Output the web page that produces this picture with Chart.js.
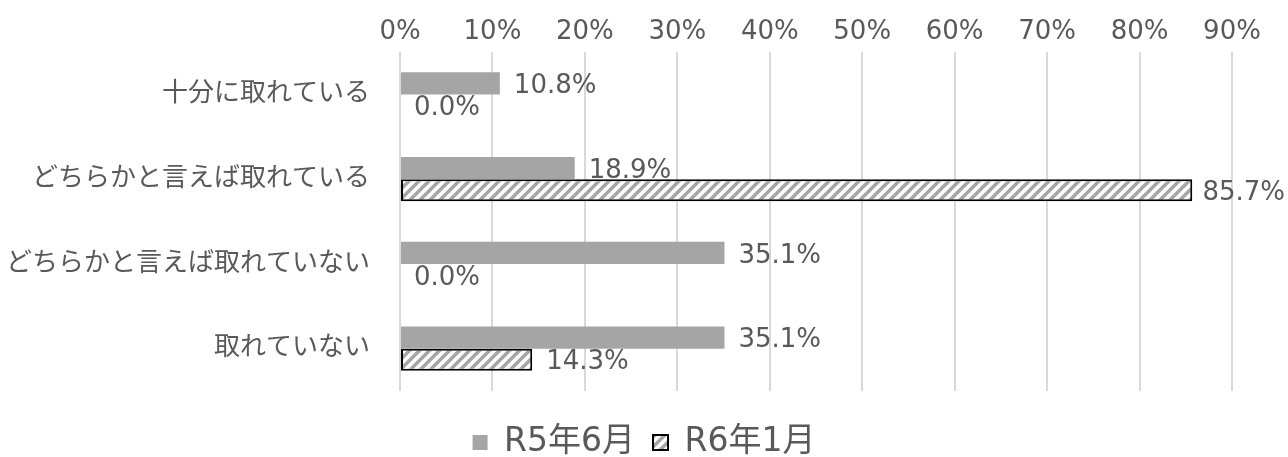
<!DOCTYPE html>
<html lang="ja">
<head>
<meta charset="utf-8">
<script src="https://cdn.jsdelivr.net/npm/chart.js@4/dist/chart.umd.min.js"></script>
<style>
  html, body { margin: 0; padding: 0; background: #fff; }
  #wrap { width: 1288px; height: 457px; }
</style>
</head>
<body>
<div id="wrap"><canvas id="graph-container" width="1288" height="457"></canvas></div>
<script>
// Answers and survey rounds
const categories = ['十分に取れている', 'どちらかと言えば取れている', 'どちらかと言えば取れていない', '取れていない'];
const seriesNames = ['R5年6月', 'R6年1月'];
const r5June = [10.8, 18.9, 35.1, 35.1];
const r6Jan = [0.0, 85.7, 0.0, 14.3];
const xTicks = [0, 10, 20, 30, 40, 50, 60, 70, 80, 90];

// Latin glyphs from DejaVu, kana/kanji fall back to Noto CJK
const FONT = '"DejaVu Sans", "Noto Sans CJK JP", sans-serif';
const TEXT = '#595959';

// Diagonal gray hatching for the second series
const makeHatch = () => {
  const size = 10;
  const c = document.createElement('canvas');
  c.width = size;
  c.height = size;
  const g = c.getContext('2d');
  g.fillStyle = '#fff';
  g.fillRect(0, 0, size, size);
  g.strokeStyle = '#a6a6a6';
  g.lineWidth = 3.5;
  g.beginPath();
  g.moveTo(-3, size + 3); g.lineTo(size + 3, -3);
  g.moveTo(-3, 3); g.lineTo(3, -3);
  g.moveTo(size - 3, size + 3); g.lineTo(size + 3, size - 3);
  g.stroke();
  return g.createPattern(c, 'repeat');
};

// Value text to the right of each bar
const valueLabels = {
  id: 'valueLabels',
  afterDatasetsDraw(chart) {
    const { ctx } = chart;
    ctx.save();
    ctx.font = `26px ${FONT}`;
    ctx.fillStyle = TEXT;
    ctx.textBaseline = 'middle';
    ctx.textAlign = 'left';
    chart.data.datasets.forEach((ds, i) => {
      chart.getDatasetMeta(i).data.forEach((bar, j) => {
        const text = ds.data[j].toFixed(1) + '%';
        const w = ctx.measureText(text).width;
        const x = Math.min(bar.x + 14, chart.width - w - 3);
        ctx.fillText(text, x, bar.y + 3);
      });
    });
    ctx.restore();
  }
};

// Centre the legend on the whole canvas and drop it a little lower
const legendShift = {
  id: 'legendShift',
  afterLayout(chart) {
    const lg = chart.legend;
    if (!lg) return;
    lg.top += 17;
    lg.bottom += 17;
    lg.left += 28;
    lg.right += 28;
  }
};

const ctx = document.getElementById('graph-container');
new Chart(ctx, {
  type: 'bar',
  data: {
    labels: categories,
    datasets: [
      {
        label: seriesNames[0],
        data: r5June,
        backgroundColor: '#a5a5a5',
        borderWidth: 0,
        categoryPercentage: 0.524,
        barPercentage: 1.0
      },
      {
        label: seriesNames[1],
        data: r6Jan,
        backgroundColor: makeHatch(),
        borderColor: '#000',
        borderWidth: 2,
        borderSkipped: false,
        categoryPercentage: 0.524,
        barPercentage: 1.0
      }
    ]
  },
  options: {
    indexAxis: 'y',
    responsive: false,
    animation: false,
    layout: { padding: { left: 0, right: 56, top: 0, bottom: 5 } },
    scales: {
      x: {
        position: 'top',
        min: 0,
        max: 90,
        afterBuildTicks: s => { s.ticks = xTicks.map(v => ({ value: v })); },
        afterFit: s => { s.height = 52; },
        grid: { color: '#d9d9d9', lineWidth: 2, drawTicks: false },
        border: { display: false },
        ticks: {
          padding: 4,
          color: TEXT,
          font: { family: FONT, size: 26 },
          callback: v => v + '%'
        }
      },
      y: {
        afterFit: s => { s.width = 400; },
        grid: { display: false, drawTicks: false },
        border: { display: false },
        ticks: {
          padding: 30,
          color: TEXT,
          font: { family: FONT, size: 26 }
        }
      }
    },
    plugins: {
      tooltip: { enabled: false },
      legend: {
        position: 'bottom',
        labels: {
          color: TEXT,
          font: { family: FONT, size: 33 },
          boxWidth: 15,
          boxHeight: 15,
          padding: 18
        }
      }
    }
  },
  plugins: [valueLabels, legendShift]
});
</script>
</body>
</html>
